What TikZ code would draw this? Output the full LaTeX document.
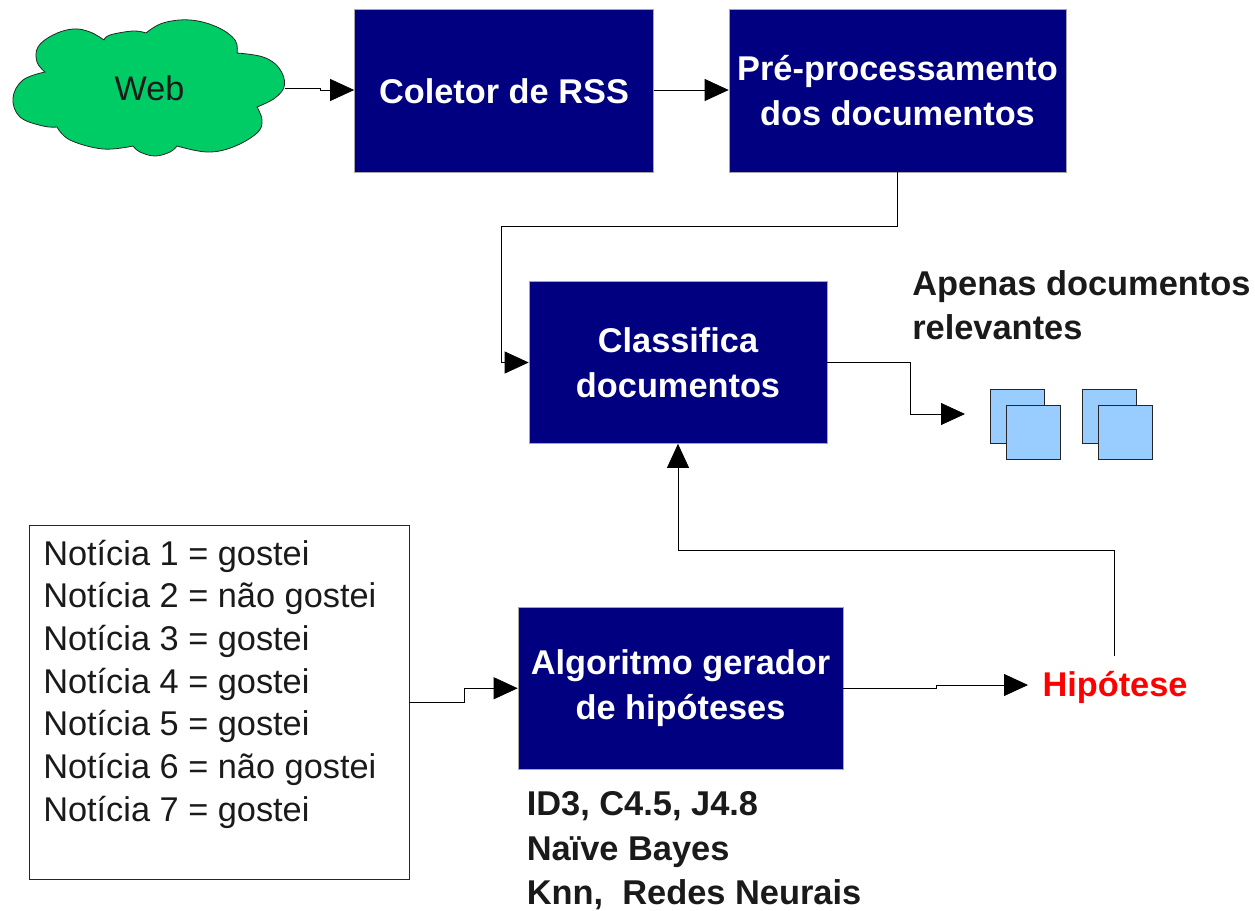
\documentclass[tikz,border=0pt]{standalone}
\usepackage{fontspec}
\setmainfont{Liberation Sans}
\usetikzlibrary{arrows.meta,positioning}
\definecolor{navybox}{HTML}{000080}
\definecolor{cloudgreen}{HTML}{00CC66}
\definecolor{docblue}{HTML}{99CCFF}
\definecolor{ink}{HTML}{1A1A1A}
\tikzset{
  x=0.75pt,y=-0.75pt,
  procbox/.style={draw=gray!70,line width=0.5pt,fill=navybox,text=white,align=center,inner sep=0pt,
    font=\bfseries\fontsize{25.75pt}{33.6pt}\selectfont},
  boldnote/.style={text=ink,align=left,inner sep=0pt,font=\bfseries\fontsize{25.8pt}{33.4pt}\selectfont},
  docpage/.style={draw=black!85,line width=0.9pt,fill=docblue},
  conn/.style={draw=black,line width=0.6pt},
  arrowconn/.style={conn,-{Triangle[length=18pt,width=16.5pt]}},
}
\begin{document}
\begin{tikzpicture}
\useasboundingbox (0,0) rectangle (1255,910);
% cloud
\draw[draw=black!85,line width=0.6pt,fill=cloudgreen]
  plot[smooth,tension=.65] coordinates {(104,40) (90,32) (73,29) (53,35) (38,47) (37,62) (45,72)}
  -- plot[smooth,tension=.65] coordinates {(45,72) (23,80) (13,98) (20,117) (43,126) (57,127)}
  -- plot[smooth,tension=.65] coordinates {(57,127) (70,140) (103,149) (133,146)}
  -- plot[smooth,tension=.65] coordinates {(133,146) (140,152) (155,156) (170,152) (177,146)}
  -- plot[smooth,tension=.65] coordinates {(177,146) (207,152) (233,147) (257,133) (262,120) (257,107)}
  -- plot[smooth,tension=.65] coordinates {(257,107) (275,98) (284.5,85) (279,68) (263,57) (237,53)}
  -- plot[smooth,tension=.65] coordinates {(237,53) (235,40) (217,27) (190,20) (163,23) (146,33)}
  -- plot[smooth,tension=.65] coordinates {(146,33) (133,31) (110,35) (104,40)}
  -- cycle;
\node[inner sep=0pt,text=ink,font=\fontsize{25.6pt}{30pt}\selectfont] (web) at (149.5,88.5) {Web};
\coordinate (cloudE) at (284.5,88);
% process boxes
\node[procbox,minimum width=224.25pt,minimum height=122pt] (rss) at (504,90.75) {Coletor de RSS};
\node[procbox,minimum width=252.75pt,minimum height=122pt] (pre) at (897.5,90.75) {Pré-processamento\\dos documentos};
\node[procbox,minimum width=223.5pt,minimum height=121.5pt] (cls) at (678,362.5) {Classifica\\documentos};
\node[procbox,minimum width=243.75pt,minimum height=121.5pt] (alg) at (680.5,688.25) {Algoritmo gerador\\de hipóteses};
% training list
\node[draw=black!85,line width=0.6pt,fill=white,minimum width=285pt,minimum height=265.5pt,inner sep=0pt] (list) at (219,702) {};
\node[anchor=north west,inner sep=0pt,text=ink,align=left,font=\fontsize{25.75pt}{32pt}\selectfont] (listtext) at (43,539.5)
 {Notícia 1 = gostei\\Notícia 2 = não gostei\\Notícia 3 = gostei\\Notícia 4 = gostei\\Notícia 5 = gostei\\Notícia 6 = não gostei\\Notícia 7 = gostei};
% notes
\node[boldnote,anchor=north west] (apenas) at (912,270) {Apenas documentos\\relevantes};
\node[boldnote,anchor=north west] (algs) at (526.5,791.5) {ID3, C4.5, J4.8\\Naïve Bayes\\Knn,\ \ Redes Neurais};
\node[inner sep=0pt,text=red,font=\bfseries\fontsize{25.75pt}{30pt}\selectfont] (hip) at (1115,687.5) {Hipótese};
% documents
\node[docpage,minimum size=41pt,inner sep=0pt] (d1) at (1017.5,416.5) {};
\node[docpage,minimum size=41pt,inner sep=0pt] (d2) at (1033.5,432.5) {};
\node[docpage,minimum size=41pt,inner sep=0pt] (d3) at (1109.5,416.5) {};
\node[docpage,minimum size=41pt,inner sep=0pt] (d4) at (1125.5,432.5) {};
\coordinate (docsW) at (965,414);
% connectors
\draw[arrowconn] (cloudE) -- (320,88) -- (320,90) -- (rss.west |- 0,90);
\draw[arrowconn] (rss.east |- 0,90) -- (pre.west |- 0,90);
\draw[arrowconn] (pre.south) -- (pre.south |- 0,226) -- (501,226) -- (501,362.5) -- (cls.west);
\draw[arrowconn] (cls.east) -- (910,362.5) -- (910,414) -- (docsW);
\draw[arrowconn] (list.east) -- (464,702) -- (464,688.25) -- (alg.west);
\draw[arrowconn] (alg.east) -- (936,688.25) -- (936,685) -- (1028,685);
\draw[arrowconn] (1114,656) -- (1114,550) -- (cls.south |- 0,550) -- (cls.south);
\end{tikzpicture}
\end{document}
